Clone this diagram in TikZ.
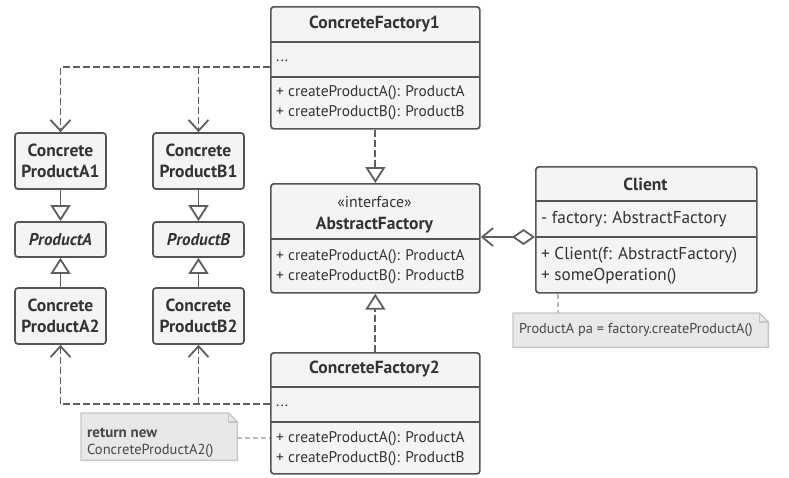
\documentclass[tikz,border=0pt]{standalone}
\usepackage{fontspec}
\setmainfont{PT Sans}
\usetikzlibrary{arrows.meta}
\definecolor{boxfill}{HTML}{F4F4F4}
\definecolor{boxline}{HTML}{555555}
\definecolor{txt}{HTML}{333333}
\definecolor{notefill}{HTML}{E8E8E8}
\definecolor{noteline}{HTML}{C6C6C6}
\definecolor{conn}{HTML}{5E5E5E}
\definecolor{notelinkc}{HTML}{BBBBBB}
\begin{document}
\begin{tikzpicture}[x=1pt,y=-1pt,
  cls/.style={draw=boxline, fill=boxfill, line width=1.7pt, rounded corners=3pt, inner sep=0pt, anchor=north west},
  divider/.style={draw=boxline, line width=1.7pt},
  prod/.style={draw=boxline, fill=boxfill, line width=1.7pt, rounded corners=3pt, inner sep=0pt, minimum width=91pt, align=center, text=txt, font=\bfseries\fontsize{17.5}{21.5}\selectfont},
  hd/.style={inner sep=0pt, text=txt, font=\bfseries\fontsize{17.5}{20}\selectfont},
  tx/.style={inner sep=0pt, anchor=west, text=txt, font=\fontsize{15.4}{18}\selectfont},
  ctx/.style={inner sep=0pt, anchor=west, text=txt, font=\fontsize{17.2}{20}\selectfont},
  notebox/.style={fill=notefill, draw=noteline, line width=1.4pt},
  notetx/.style={inner sep=0pt, anchor=west, text=txt!90, font=\fontsize{14.3}{16}\selectfont},
  notelink/.style={draw=notelinkc, line width=1.2pt, dash pattern=on 5pt off 3pt},
  dep/.style={draw=conn, line width=1.8pt, dash pattern=on 7pt off 3pt},
  solidc/.style={draw=conn, line width=1.8pt},
  barb/.style={-{Straight Barb[length=11pt,width=20pt,line width=1.8pt]}},
  tri/.style={-{Triangle[fill=white,length=16pt,width=20pt,line width=1.8pt]}},
]
\useasboundingbox (0,0) rectangle (789,477);

% ConcreteFactory1
\node[cls, minimum width=209pt, minimum height=122pt] (cf1) at (270,6) {};
\draw[divider] (270,42) -- (479,42);
\draw[divider] (270,77) -- (479,77);
\node[hd] (cf1h) at (374.5,24) {ConcreteFactory1};
\node[tx] (cf1a) at (276,61) {...};
\node[tx] (cf1m1) at (276,93) {+ createProductA(): ProductA};
\node[tx] (cf1m2) at (276,113) {+ createProductB(): ProductB};

% AbstractFactory
\node[cls, minimum width=209pt, minimum height=109pt] (af) at (270,183) {};
\draw[divider] (270,239) -- (479,239);
\node[inner sep=0pt, text=txt, font=\fontsize{15.8}{18}\selectfont] (afs) at (374.5,202) {«interface»};
\node[hd] (afh) at (374.5,225) {AbstractFactory};
\node[tx] (afm1) at (276,257) {+ createProductA(): ProductA};
\node[tx] (afm2) at (276,277) {+ createProductB(): ProductB};

% ConcreteFactory2
\node[cls, minimum width=209pt, minimum height=121pt] (cf2) at (270,352) {};
\draw[divider] (270,387) -- (479,387);
\draw[divider] (270,422) -- (479,422);
\node[hd] (cf2h) at (374.5,369) {ConcreteFactory2};
\node[tx] (cf2a) at (276,406) {...};
\node[tx] (cf2m1) at (276,439) {+ createProductA(): ProductA};
\node[tx] (cf2m2) at (276,459) {+ createProductB(): ProductB};

% Client
\node[cls, minimum width=221pt, minimum height=126pt] (cl) at (535,166) {};
\draw[divider] (535,201) -- (756,201);
\draw[divider] (535,237) -- (756,237);
\node[hd] (clh) at (645.5,184) {Client};
\node[ctx] (clf) at (541,219) {- factory: AbstractFactory};
\node[ctx] (clm1) at (541,255) {+ Client(f: AbstractFactory)};
\node[ctx] (clm2) at (541,276) {+ someOperation()};

% Products
\node[prod, minimum height=56pt] (pa1) at (60.5,161) {Concrete\\ProductA1};
\node[prod, minimum height=56pt] (pb1) at (198.5,161) {Concrete\\ProductB1};
\node[prod, minimum height=35pt, font=\bfseries\itshape\fontsize{17}{21}\selectfont] (pA) at (60.5,239.5) {ProductA};
\node[prod, minimum height=35pt, font=\bfseries\itshape\fontsize{17}{21}\selectfont] (pB) at (198.5,239.5) {ProductB};
\node[prod, minimum height=56pt] (pa2) at (60.5,316) {Concrete\\ProductA2};
\node[prod, minimum height=56pt] (pb2) at (198.5,316) {Concrete\\ProductB2};

% Notes
\node[inner sep=0pt, minimum width=255pt, minimum height=34pt, anchor=north west] (n1) at (513,313) {};
\draw[notebox] (n1.north west) -- ([xshift=-9pt]n1.north east) -- ([yshift=-9pt]n1.north east) -- (n1.south east) -- (n1.south west) -- cycle;
\draw[noteline, line width=1.4pt] ([xshift=-9pt]n1.north east) -- ([xshift=-9pt,yshift=-9pt]n1.north east) -- ([yshift=-9pt]n1.north east);
\node[notetx] (n1t) at (519,330) {ProductA pa = factory.createProductA()};

\node[inner sep=0pt, minimum width=156pt, minimum height=47pt, anchor=north west] (n2) at (81,413) {};
\draw[notebox] (n2.north west) -- ([xshift=-9pt]n2.north east) -- ([yshift=-9pt]n2.north east) -- (n2.south east) -- (n2.south west) -- cycle;
\draw[noteline, line width=1.4pt] ([xshift=-9pt]n2.north east) -- ([xshift=-9pt,yshift=-9pt]n2.north east) -- ([yshift=-9pt]n2.north east);
\node[notetx, font=\bfseries\fontsize{15}{16}\selectfont] (n2t1) at (87,433) {return new};
\node[notetx, font=\fontsize{14.5}{16}\selectfont] (n2t2) at (87,451) {ConcreteProductA2()};

% note links
\coordinate (n1top) at (558,313);
\draw[notelink] (n1top |- cl.south) -- (n1top);
\coordinate (n2link) at (237,438);
\draw[notelink] (n2link) -- (n2link -| cf2.west);

% dependencies from factories to products
\coordinate (cf1d) at (270,67);
\draw[dep, barb] (cf1d) -| (pa1.north);
\draw[dep, barb] (cf1d -| pb1.north) -- (pb1.north);
\coordinate (cf2d) at (270,404);
\draw[dep, barb] (cf2d) -| (pa2.south);
\draw[dep, barb] (cf2d -| pb2.south) -- (pb2.south);

% realization factories -> AbstractFactory
\draw[dep, tri] (cf1.south) -- (af.north);
\draw[dep, tri] (cf2.north) -- (af.south);

% product inheritance
\draw[solidc, tri] (pa1.south) -- (pA.north);
\draw[solidc, tri] (pb1.south) -- (pB.north);
\draw[solidc, tri] (pa2.north) -- (pA.south);
\draw[solidc, tri] (pb2.north) -- (pB.south);

% client aggregation
\coordinate (clag) at (535,237);
\draw[solidc, {Diamond[fill=white,length=23pt,width=16pt,line width=1.8pt]}-{Straight Barb[length=11pt,width=18pt,line width=1.8pt]}] (clag) -- (clag -| af.east);
\end{tikzpicture}
\end{document}
